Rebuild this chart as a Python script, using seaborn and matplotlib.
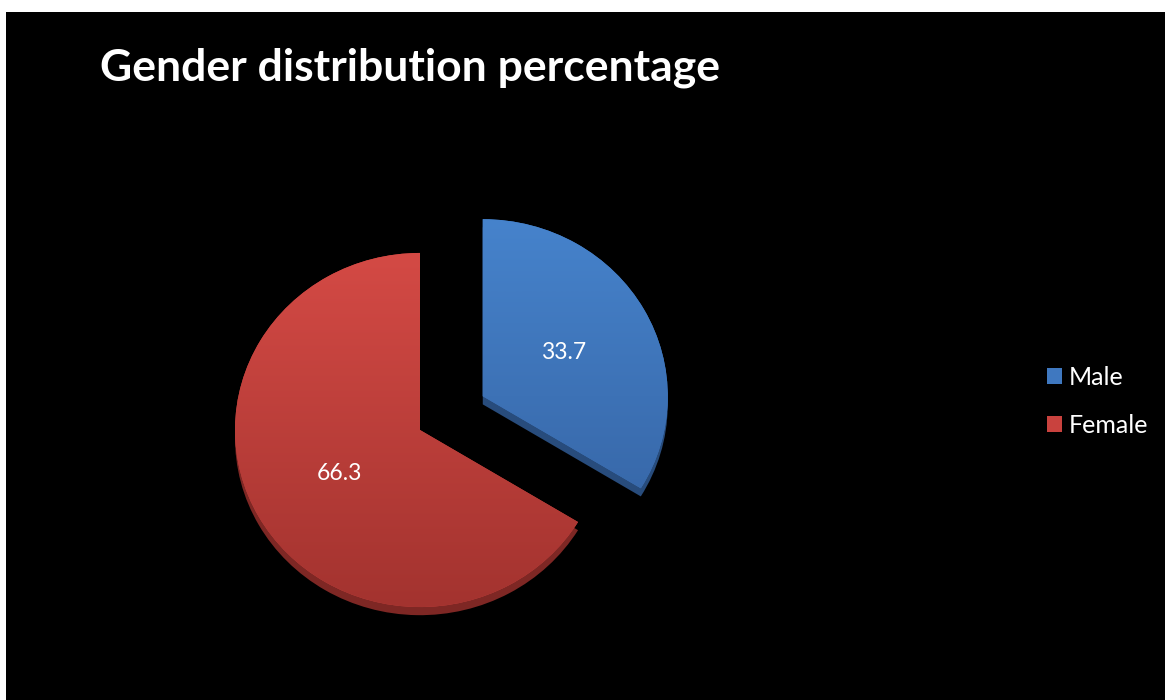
import numpy as np
import matplotlib
matplotlib.use("Agg")
import matplotlib.pyplot as plt
from matplotlib.patches import Rectangle, Patch
from matplotlib.colors import LinearSegmentedColormap
import seaborn as sns

# Gender shares (percent)
genders = ["Male", "Female"]
shares = [33.7, 66.3]

face_colors = ["#3f78c0", "#c9423e"]
top_colors = ["#4683cc", "#d44a45"]
bottom_colors = ["#3461a0", "#a3332f"]
side_colors = ["#284c7c", "#7e2724"]

sns.set_theme(style="white")
plt.rcParams["font.family"] = ["Lato", "DejaVu Sans"]

W, H = 1165, 700
fig = plt.figure(figsize=(W / 100, H / 100), dpi=100, facecolor="white")

# background layer: black slide with a thin white margin top/left
bg = fig.add_axes([0, 0, 1, 1])
bg.add_patch(Rectangle((6, 0), W - 6, H - 12, facecolor="black",
                       edgecolor="none"))
bg.set_xlim(0, W)
bg.set_ylim(0, H)
bg.axis("off")

# pie layer, slightly squashed vertically for a tilted look
tilt = 0.957
cx, cy = 420, H - 430
ax = fig.add_axes([0, 0, 1, 1])
ax.set_facecolor("none")

radius = 185
explode = [72, 0]
depth = 8.5

ax.pie(shares, colors=side_colors, startangle=90, counterclock=False,
       explode=explode, radius=radius, center=(cx, cy - depth),
       wedgeprops=dict(linewidth=0))

wedges, _, autotexts = ax.pie(
    shares, colors=face_colors, startangle=90, counterclock=False,
    explode=explode, radius=radius, center=(cx, cy),
    autopct=lambda p: f"{p:.1f}", pctdistance=0.5,
    textprops=dict(color="white", fontsize=16.5),
    wedgeprops=dict(linewidth=0))

# vertical shading on each slice
grad = np.linspace(0, 1, 256).reshape(-1, 1)
for w, c_top, c_bot in zip(wedges, top_colors, bottom_colors):
    cmap = LinearSegmentedColormap.from_list("shade", [c_bot, c_top])
    wx, wy = w.center
    im = ax.imshow(grad, cmap=cmap, origin="lower", aspect="auto",
                   extent=(wx - radius, wx + radius, wy - radius, wy + radius),
                   zorder=w.get_zorder() + 0.01)
    im.set_clip_path(w)
for t in autotexts:
    t.set_zorder(5)

ylo = cy - cy / tilt
ax.set_xlim(0, W)
ax.set_ylim(ylo, ylo + H / tilt)
ax.set_aspect("auto")
ax.axis("off")

fig.text(100 / W, 1 - 80 / H, "Gender distribution percentage",
         color="white", fontsize=32, fontweight="bold", va="baseline")

handles = [Patch(facecolor=c, edgecolor="none") for c in face_colors]
leg = fig.legend(handles, genders, loc="center left",
                 bbox_to_anchor=(1024 / W, 1 - 401.5 / H), frameon=False,
                 fontsize=18, labelcolor="white", handlelength=0.6,
                 handleheight=0.6, handletextpad=0.3, labelspacing=1.0)

fig.savefig("out.png", dpi=100, facecolor="white")
